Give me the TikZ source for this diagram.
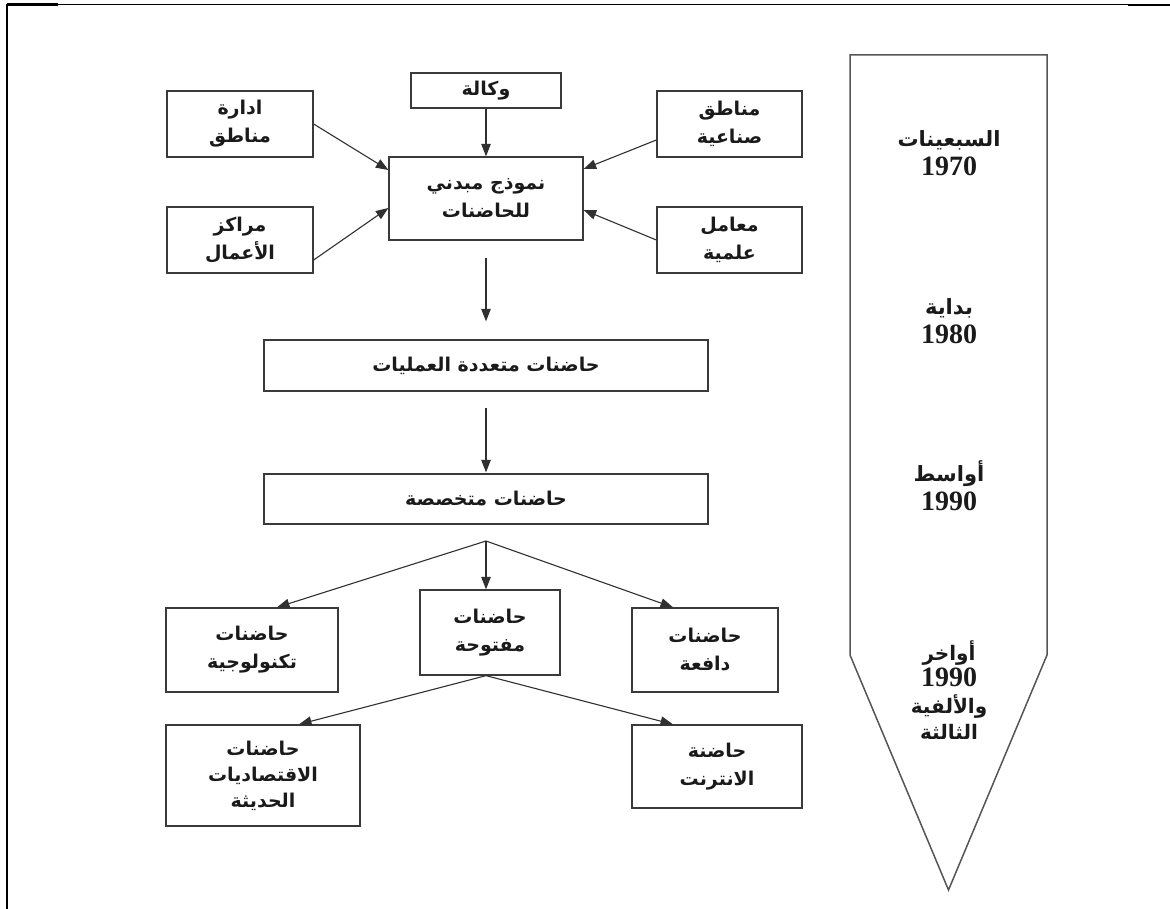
\documentclass[tikz,border=0pt]{standalone}
\usepackage{fontspec}
\setmainfont{Liberation Serif}
\newfontfamily\arabicfont[Script=Arabic]{DejaVu Sans}
\TeXXeTstate=1
\usetikzlibrary{arrows.meta}
\definecolor{boxgray}{HTML}{3A3A3A}
\definecolor{linkgray}{HTML}{303030}
\definecolor{txt}{HTML}{1A1A1A}
\definecolor{tlgray}{HTML}{555555}
\newcommand{\AR}[1]{{\arabicfont\bfseries\beginR #1\endR}}
\newcommand{\YR}[1]{{\fontsize{28}{29}\selectfont\bfseries #1}}
\begin{document}
\begin{tikzpicture}[x=1pt,y=-1pt,
  box/.style={draw=boxgray, line width=1.3pt, rectangle, inner sep=0pt, align=center,
    font=\fontsize{19}{28}\selectfont, text=txt},
  link/.style={draw=linkgray, line width=1.1pt, -{Triangle[length=12.5pt,width=9.5pt]}},
  tltext/.style={align=center, text=txt, font=\fontsize{21}{29}\selectfont, inner sep=0pt},
  frameline/.style={draw=black}]
\useasboundingbox (0,0) rectangle (1170,909);
% page frame
\draw[frameline, line width=1pt] (7,5) -- (1170,5);
\draw[frameline, line width=2.6pt] (7,4.5) -- (58,4.5);
\draw[frameline, line width=2.6pt] (1128,5) -- (1170,5);
\draw[frameline, line width=2.4pt] (7,4) -- (7,909);
% boxes
\node[box, minimum width=150pt, minimum height=35pt] (wakala) at (486,90.5) {\AR{وكالة}};
\node[box, minimum width=146pt, minimum height=66pt] (idara) at (240,124) {\AR{ادارة}\\\AR{مناطق}};
\node[box, minimum width=145pt, minimum height=66pt] (sinaiya) at (729.5,124) {\AR{مناطق}\\\AR{صناعية}};
\node[box, minimum width=194pt, minimum height=83pt] (model) at (486,198.5) {\AR{نموذج مبدني}\\\AR{للحاضنات}};
\node[box, minimum width=146pt, minimum height=66pt] (marakez) at (240,240) {\AR{مراكز}\\\AR{الأعمال}};
\node[box, minimum width=145pt, minimum height=66pt] (maamel) at (729.5,240) {\AR{معامل}\\\AR{علمية}};
\node[box, minimum width=444pt, minimum height=51pt] (multi) at (486,365.5) {\AR{حاضنات متعددة العمليات}};
\node[box, minimum width=444pt, minimum height=50pt] (special) at (486,499) {\AR{حاضنات متخصصة}};
\node[box, minimum width=172pt, minimum height=84pt] (tech) at (252,650) {\AR{حاضنات}\\\AR{تكنولوجية}};
\node[box, minimum width=140pt, minimum height=85pt] (open) at (490,632.5) {\AR{حاضنات}\\\AR{مفتوحة}};
\node[box, minimum width=146pt, minimum height=84pt] (push) at (705,650) {\AR{حاضنات}\\\AR{دافعة}};
\node[box, minimum width=194pt, minimum height=101pt, font=\fontsize{19}{26}\selectfont] (neweco) at (263,775.5) {\AR{حاضنات}\\\AR{الاقتصاديات}\\\AR{الحديثة}};
\node[box, minimum width=170pt, minimum height=83pt] (internet) at (717,766.5) {\AR{حاضنة}\\\AR{الانترنت}};
% connectors
\draw[link] (wakala.south) -- (model.north);
\draw[link] (idara.east) -- ([yshift=28.5pt]model.west);
\draw[link] ([yshift=-20pt]marakez.east) -- ([yshift=-9.5pt]model.west);
\draw[link] ([yshift=-16pt]sinaiya.west) -- ([yshift=29.5pt]model.east);
\draw[link] (maamel.west) -- ([yshift=-11.5pt]model.east);
\draw[link, shorten <=17pt, shorten >=18pt] (model.south) -- (multi.north);
\draw[link, shorten <=16pt, shorten >=1pt] (multi.south) -- (special.north);
\coordinate (fork) at (486,541);
\draw[link] (fork) -- ([xshift=25pt]tech.north);
\draw[link] (fork) -- ([xshift=-4pt]open.north);
\draw[link] (fork) -- ([xshift=-32pt]push.north);
\coordinate (fork2) at ([xshift=-4pt]open.south);
\draw[link] (fork2) -- ([xshift=36pt]neweco.north);
\draw[link] (fork2) -- ([xshift=-44pt]internet.north);
% timeline
\draw[draw=tlgray, line width=1.5pt, line join=miter] (850,55) -- (1047,55) -- (1047,655) -- (948.5,890) -- (850,655) -- cycle;
\node[tltext] (t1) at (949,153) {\AR{السبعينات}\\\YR{1970}};
\node[tltext] (t2) at (949,321) {\AR{بداية}\\\YR{1980}};
\node[tltext] (t3) at (949,486) {\AR{أواسط}\\\YR{1990}};
\node[tltext, font=\fontsize{20}{26.5}\selectfont] (t4) at (949,690) {\AR{أواخر}\\\YR{1990}\\\AR{والألفية}\\\AR{الثالثة}};
\end{tikzpicture}
\end{document}
